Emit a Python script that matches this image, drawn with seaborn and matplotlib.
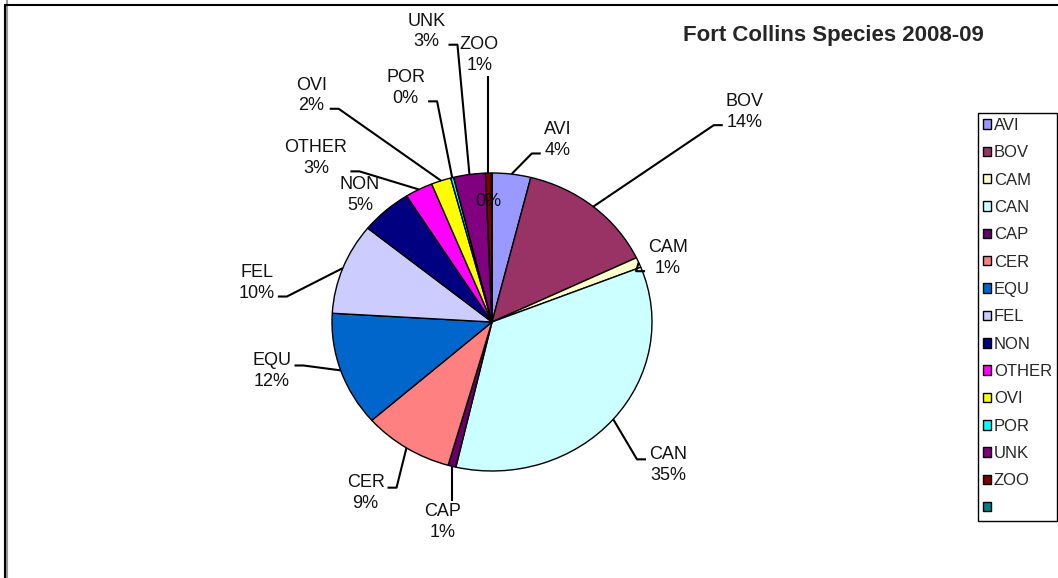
import numpy as np
import matplotlib
matplotlib.use('Agg')
import matplotlib.pyplot as plt
import matplotlib.patches as mpatches
import seaborn as sns

species = ['AVI', 'BOV', 'CAM', 'CAN', 'CAP', 'CER', 'EQU', 'FEL', 'NON', 'OTHER', 'OVI', 'POR', 'UNK', 'ZOO', '']
shares = [3.9, 14.0, 1.1, 34.6, 0.8, 9.1, 12.4, 9.9, 5.2, 2.8, 2.0, 0.3, 3.2, 0.6, 0.05]
colors = ['#9999FF', '#993366', '#FFFFCC', '#CCFFFF', '#660066', '#FF8080', '#0066CC', '#CCCCFF',
          '#000080', '#FF00FF', '#FFFF00', '#00FFFF', '#800080', '#800000', '#008080']

# where each data label sits (pie radius units) and which side its leader line leaves from
label_xy = [(0.41, 1.22), (1.58, 1.41), (1.10, 0.43), (1.10, -0.96), (-0.31, -1.34), (-0.79, -1.15),
            (-1.375, -0.33), (-1.47, 0.26), (-0.825, 0.85), (-1.10, 1.10), (-1.13, 1.52), (-0.54, 1.57),
            (-0.41, 1.95), (-0.08, 1.79), (-0.025, 0.81)]
label_side = ['r', 'r', 'r', 'r', 'below', 'l', 'l', 'l', '', 'l', 'l', 'l', 'l', 'above', '']

sns.set_style('white')
plt.rcParams['font.family'] = ['Liberation Sans', 'DejaVu Sans']

W, H = 1058, 578
cx, cy, rx, ry = 492, 322, 160, 149

fig = plt.figure(figsize=(W / 100, H / 100), dpi=100)
ax = fig.add_axes([0, 0, 1, 1])
wedges, _ = ax.pie(shares, colors=colors, startangle=90, counterclock=False,
                   wedgeprops=dict(edgecolor='black', linewidth=1))
ax.set_aspect('auto')
ax.set_xlim(-cx / rx, (W - cx) / rx)
ax.set_ylim(-(H - cy) / ry, cy / ry)
ax.axis('off')

total = sum(shares)
texts = []
for name, val, (lx, ly) in zip(species, shares, label_xy):
    pct = f'{val / total * 100:.0f}%'
    s = f'{name}\n{pct}' if name else pct
    texts.append(ax.text(lx, ly, s, ha='center', va='center', multialignment='center',
                         fontsize=13, color='#111111', linespacing=1.3))

fig.canvas.draw()
rend = fig.canvas.get_renderer()
inv = ax.transData.inverted()
cy_disp = ax.transData.transform((0, 0))[1]
for w, t, side in zip(wedges, texts, label_side):
    if not side:
        continue
    mid = np.deg2rad((w.theta1 + w.theta2) / 2)
    px, py = ax.transData.transform((np.cos(mid), np.sin(mid)))
    bb = t.get_window_extent(rend)
    if side in ('r', 'l'):
        ky = bb.y0 + 0.15 * bb.height if bb.y0 > cy_disp - 40 else bb.y1 - 0.35 * bb.height
        if side == 'r':
            ex, kx = bb.x0 - 3, bb.x0 - 12
        else:
            ex, kx = bb.x1 + 3, bb.x1 + 12
        pts = [(ex, ky), (kx, ky), (px, py)]
    elif side == 'above':
        pts = [(px, bb.y0 - 2), (px, py)]
    else:
        pts = [(px, py), (px, bb.y1 + 2)]
    d = inv.transform(pts)
    ax.plot(d[:, 0], d[:, 1], color='black', lw=1.5, solid_capstyle='butt')

fig.text(833 / W, 1 - 35 / H, 'Fort Collins Species 2008-09', ha='center', va='center',
         fontsize=16, fontweight='bold')

handles = [mpatches.Patch(facecolor=c, edgecolor='black', linewidth=1) for c in colors]
leg = fig.legend(handles, species, loc='upper left', bbox_to_anchor=(978 / W, 1 - 113 / H),
                 frameon=True, fancybox=False, edgecolor='black', framealpha=1, fontsize=12,
                 handlelength=0.5, handleheight=0.5, handletextpad=0.15, labelspacing=0.74,
                 borderaxespad=0, borderpad=0.3)
leg.get_frame().set_linewidth(1)

# chart area border (only top and left edge fall inside the picture)
fig.add_artist(mpatches.Rectangle((6.5 / W, -0.1), 1.2, 1.1 - 6.5 / H + 0.1, transform=fig.transFigure,
                                  fill=False, edgecolor='#999999', linewidth=1.5))
fig.add_artist(mpatches.Rectangle((5 / W, -0.1), 1.2, 1.1 - 5 / H, transform=fig.transFigure,
                                  fill=False, edgecolor='black', linewidth=1.5))

fig.savefig('out.png', dpi=100)
